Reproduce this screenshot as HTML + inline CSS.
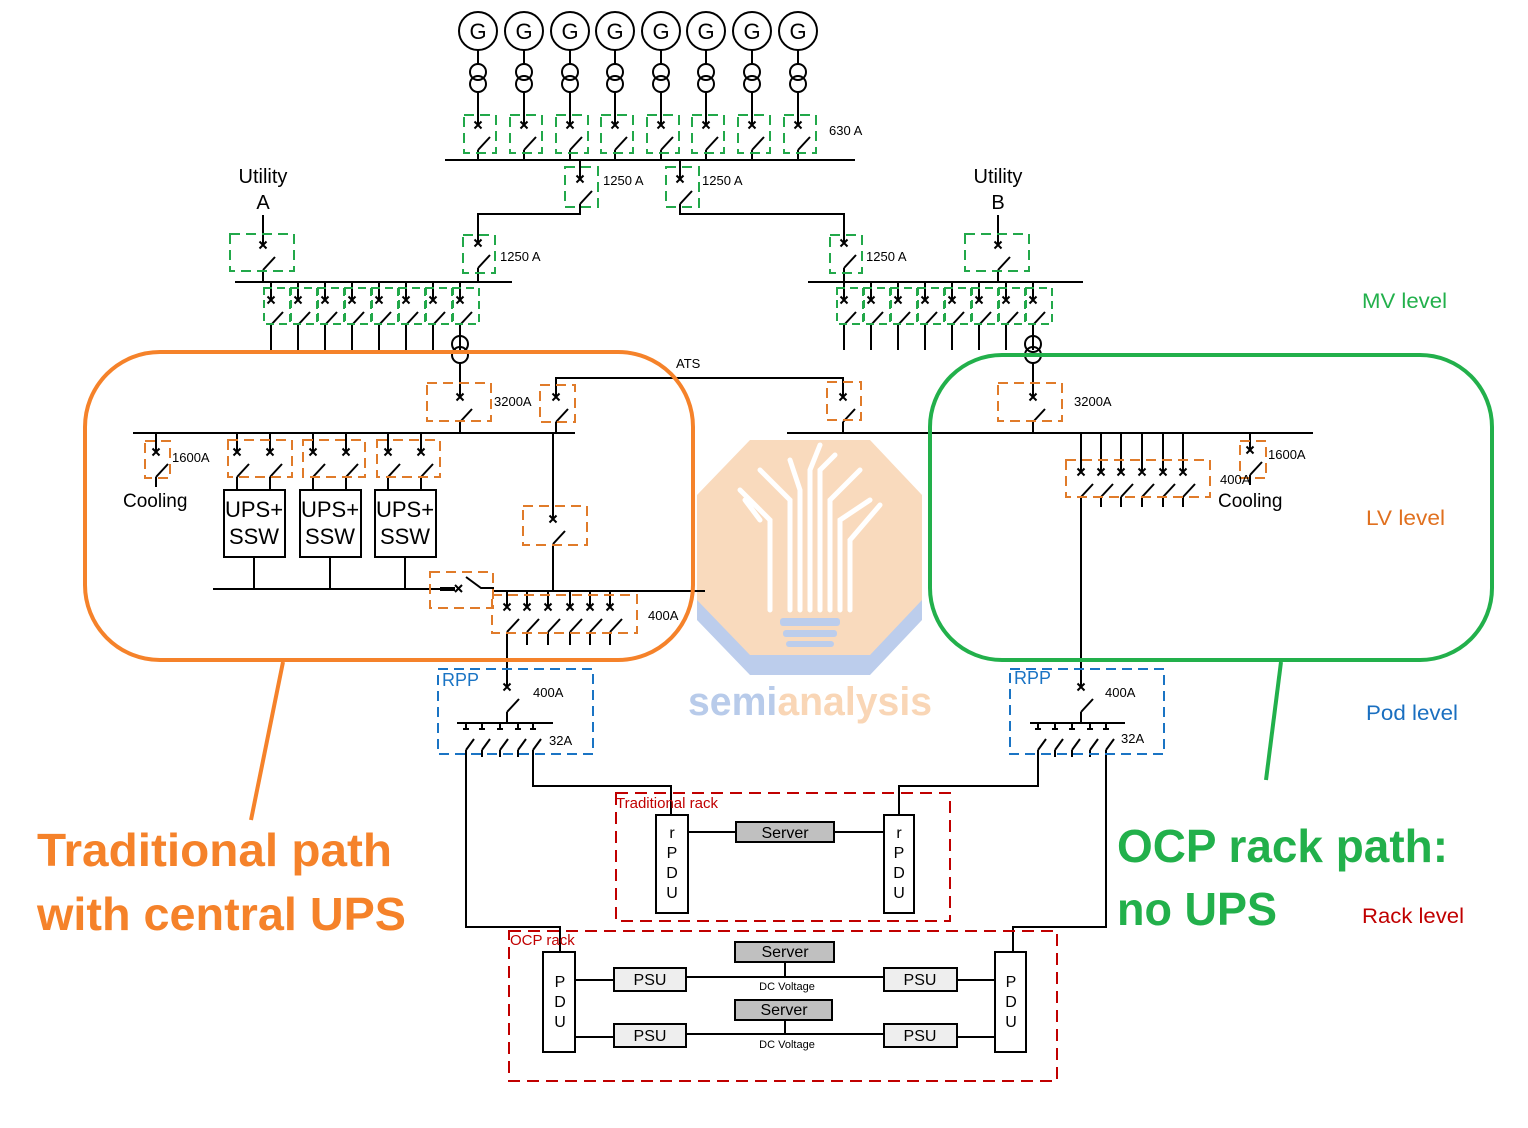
<!DOCTYPE html>
<html><head><meta charset="utf-8"><style>
html,body{margin:0;padding:0;background:#fff}
svg{display:block}
text{font-family:"Liberation Sans",sans-serif}
</style></head><body>
<svg width="1528" height="1128" viewBox="0 0 1528 1128" xmlns="http://www.w3.org/2000/svg">
<defs>
<g id="b" fill="none" stroke="#000" stroke-width="2"><path d="M-3.5,-3.5L3.5,3.5M3.5,-3.5L-3.5,3.5M0,25L12,12"/></g>
<g id="s" fill="none" stroke="#000" stroke-width="2"><path d="M-3,-2L3,-2M0,19L8,8"/></g>
<g id="gen" fill="none" stroke="#000" stroke-width="2">
<circle cx="0" cy="31" r="19"/><path d="M0,50V64M0,92V125M0,150V160"/>
<circle cx="0" cy="72" r="8"/><circle cx="0" cy="84" r="8"/>
<use href="#b" y="125"/>
<rect x="-14" y="115" width="32" height="38" stroke="#22a84a" stroke-dasharray="10,6"/>
</g>
<g id="fd" fill="none" stroke="#000" stroke-width="2">
<path d="M0,282V300M0,325V350"/><use href="#b" y="300"/>
<rect x="-7" y="288" width="26" height="36" stroke="#22a84a" stroke-dasharray="8,5"/>
</g>
</defs>

<!-- logo -->
<polygon points="750,460 870,460 922,515 922,620 870,675 750,675 697,620 697,515" fill="#bccdec"/>
<polygon points="750,440 870,440 922,495 922,600 870,655 750,655 697,600 697,495" fill="#f9dabd"/>
<g stroke="#fff" stroke-width="5" fill="none" stroke-linecap="round">
<path d="M770,610V520L740,490M790,610V500L760,470M800,610V490L790,460M810,610V470L820,445M820,610V470L835,455M830,610V500L860,470M840,610V520L870,500M850,610V540L880,505M760,520L745,500"/>
</g>
<g fill="#bccdec"><rect x="780" y="618" width="60" height="8" rx="3"/><rect x="783" y="630" width="54" height="7" rx="3"/><rect x="786" y="641" width="48" height="6" rx="3"/></g>
<text x="688" y="715" font-size="40" font-weight="bold" textLength="244" lengthAdjust="spacingAndGlyphs"><tspan fill="#b8cbea">semi</tspan><tspan fill="#f9d6b6">analysis</tspan></text>

<!-- generators -->
<g font-size="22" text-anchor="middle">
<use href="#gen" x="478"/><use href="#gen" x="524"/><use href="#gen" x="570"/><use href="#gen" x="615"/><use href="#gen" x="661"/><use href="#gen" x="706"/><use href="#gen" x="752"/><use href="#gen" x="798"/>
<text x="478" y="39">G</text><text x="524" y="39">G</text><text x="570" y="39">G</text><text x="615" y="39">G</text><text x="661" y="39">G</text><text x="706" y="39">G</text><text x="752" y="39">G</text><text x="798" y="39">G</text>
</g>
<g font-size="13"><text x="829" y="135">630 A</text><text x="603" y="185">1250 A</text><text x="702" y="185">1250 A</text><text x="500" y="261">1250 A</text><text x="866" y="261">1250 A</text></g>

<g fill="none" stroke="#000" stroke-width="2">
<path d="M445,160H855"/>
<path d="M580,160V179M580,204V214H478V243M478,268V282"/><use href="#b" x="580" y="179"/><use href="#b" x="478" y="243"/>
<path d="M680,160V179M680,204V214H844V243M844,268V282"/><use href="#b" x="680" y="179"/><use href="#b" x="844" y="243"/>
<path d="M263,215V245M263,270V282"/><use href="#b" x="263" y="245"/>
<path d="M998,215V245M998,270V282"/><use href="#b" x="998" y="245"/>
<path d="M235,282H512M808,282H1083"/>
</g>
<g fill="none" stroke="#22a84a" stroke-width="2" stroke-dasharray="10,6">
<rect x="565" y="167" width="33" height="40"/><rect x="666" y="167" width="33" height="40"/>
<rect x="463" y="235" width="32" height="38"/><rect x="830" y="235" width="32" height="38"/>
<rect x="230" y="234" width="64" height="37"/><rect x="965" y="234" width="64" height="37"/>
</g>
<g font-size="20" text-anchor="middle"><text x="263" y="183">Utility</text><text x="263" y="209">A</text><text x="998" y="183">Utility</text><text x="998" y="209">B</text></g>

<use href="#fd" x="271"/><use href="#fd" x="298"/><use href="#fd" x="325"/><use href="#fd" x="352"/><use href="#fd" x="379"/><use href="#fd" x="406"/><use href="#fd" x="433"/><use href="#fd" x="460"/>
<use href="#fd" x="844"/><use href="#fd" x="871"/><use href="#fd" x="898"/><use href="#fd" x="925"/><use href="#fd" x="952"/><use href="#fd" x="979"/><use href="#fd" x="1006"/><use href="#fd" x="1033"/>

<!-- LV -->
<g fill="none" stroke="#000" stroke-width="2">
<path d="M460,350V336M460,363V397M460,422V433"/><circle cx="460" cy="344" r="8"/><circle cx="460" cy="355" r="8"/><use href="#b" x="460" y="397"/>
<path d="M1033,350V336M1033,363V397M1033,422V433"/><circle cx="1033" cy="344" r="8"/><circle cx="1033" cy="355" r="8"/><use href="#b" x="1033" y="397"/>
<path d="M133,433H575M787,433H1313"/>
<path d="M556,397V378H843V397M556,422V433M843,422V433"/><use href="#b" x="556" y="397"/><use href="#b" x="843" y="397"/>
<path d="M553,433V519M553,544V590"/><use href="#b" x="553" y="519"/>
<path d="M156,433V452M156,477V487"/><use href="#b" x="156" y="452"/>
<path d="M237,433V452M237,477V490M270,433V452M270,477V490M313,433V452M313,477V490M346,433V452M346,477V490M388,433V452M388,477V490M421,433V452M421,477V490"/>
<use href="#b" x="237" y="452"/><use href="#b" x="270" y="452"/><use href="#b" x="313" y="452"/><use href="#b" x="346" y="452"/><use href="#b" x="388" y="452"/><use href="#b" x="421" y="452"/>
<rect x="224" y="490" width="61" height="67"/><rect x="300" y="490" width="61" height="67"/><rect x="375" y="490" width="61" height="67"/>
<path d="M254,557V590M330,557V590M405,557V590"/>
<path d="M213,589H440M466,577L481,588H493V591H705"/><path d="M440,589H455" stroke-width="4"/><path d="M455,585L462,592M462,585L455,592"/>
<path d="M507,591V607M507,632V687M527,591V607M527,632V645M548,591V607M548,632V645M570,591V607M570,632V645M590,591V607M590,632V645M610,591V607M610,632V645"/>
<use href="#b" x="507" y="607"/><use href="#b" x="527" y="607"/><use href="#b" x="548" y="607"/><use href="#b" x="570" y="607"/><use href="#b" x="590" y="607"/><use href="#b" x="610" y="607"/>
<path d="M1081,433V472M1081,497V687M1101,433V472M1101,497V507M1121,433V472M1121,497V507M1142,433V472M1142,497V507M1163,433V472M1163,497V507M1183,433V472M1183,497V507"/>
<use href="#b" x="1081" y="472"/><use href="#b" x="1101" y="472"/><use href="#b" x="1121" y="472"/><use href="#b" x="1142" y="472"/><use href="#b" x="1163" y="472"/><use href="#b" x="1183" y="472"/>
<path d="M1250,433V450M1250,475V485"/><use href="#b" x="1250" y="450"/>
</g>
<g fill="none" stroke="#e07b2a" stroke-width="2" stroke-dasharray="10,6">
<rect x="427" y="383" width="64" height="38"/><rect x="998" y="383" width="64" height="38"/>
<rect x="540" y="385" width="35" height="37"/><rect x="827" y="382" width="34" height="38"/>
<rect x="145" y="441" width="25" height="37"/>
<rect x="228" y="440" width="64" height="37"/><rect x="303" y="440" width="62" height="37"/><rect x="377" y="440" width="63" height="37"/>
<rect x="523" y="506" width="64" height="39"/><rect x="430" y="572" width="63" height="36"/>
<rect x="492" y="595" width="145" height="38"/><rect x="1066" y="460" width="144" height="37"/>
<rect x="1240" y="441" width="26" height="37"/>
</g>
<g font-size="13"><text x="494" y="406">3200A</text><text x="1074" y="406">3200A</text><text x="676" y="368">ATS</text><text x="172" y="462">1600A</text><text x="1268" y="459">1600A</text><text x="648" y="620">400A</text><text x="1220" y="484">400A</text></g>
<g font-size="19"><text x="123" y="507">Cooling</text><text x="1218" y="507">Cooling</text></g>
<g font-size="22" text-anchor="middle"><text x="254" y="517">UPS+</text><text x="254" y="544">SSW</text><text x="330" y="517">UPS+</text><text x="330" y="544">SSW</text><text x="405" y="517">UPS+</text><text x="405" y="544">SSW</text></g>

<!-- RPP -->
<g fill="none" stroke="#000" stroke-width="2">
<use href="#b" x="507" y="687"/><path d="M507,712V723M457,723H553"/>
<path d="M466,723V729M482,723V729M500,723V729M518,723V729M533,723V729"/>
<use href="#s" x="466" y="731"/><use href="#s" x="482" y="731"/><use href="#s" x="500" y="731"/><use href="#s" x="518" y="731"/><use href="#s" x="533" y="731"/>
<path d="M466,750V927H560V952M533,750V786H671V815M482,750V757M500,750V757M518,750V757"/>
<use href="#b" x="1081" y="687"/><path d="M1081,712V723M1030,723H1125"/>
<path d="M1038,723V729M1055,723V729M1072,723V729M1090,723V729M1106,723V729"/>
<use href="#s" x="1038" y="731"/><use href="#s" x="1055" y="731"/><use href="#s" x="1072" y="731"/><use href="#s" x="1090" y="731"/><use href="#s" x="1106" y="731"/>
<path d="M1038,750V786H899V815M1106,750V927H1013V952M1055,750V757M1072,750V757M1090,750V757"/>
</g>
<g fill="none" stroke="#1a74c4" stroke-width="2" stroke-dasharray="10,6"><rect x="438" y="669" width="155" height="85"/><rect x="1010" y="669" width="154" height="85"/></g>
<g font-size="18" fill="#1a74c4"><text x="442" y="686">RPP</text><text x="1014" y="684">RPP</text></g>
<g font-size="13"><text x="533" y="697">400A</text><text x="1105" y="697">400A</text><text x="549" y="745">32A</text><text x="1121" y="743">32A</text></g>

<!-- racks -->
<g fill="none" stroke="#c00000" stroke-width="2" stroke-dasharray="12,7"><rect x="616" y="793" width="334" height="128"/><rect x="509" y="931" width="548" height="150"/></g>
<g font-size="15" fill="#c00000"><text x="616" y="808">Traditional rack</text><text x="510" y="945">OCP rack</text></g>
<g stroke="#000" stroke-width="2" fill="#fff">
<path d="M688,832H736M834,832H884M575,980H614M686,977H884M957,980H995M575,1037H614M686,1034H884M957,1037H995M785,962V977M785,1020V1034" fill="none"/>
<rect x="656" y="815" width="32" height="98"/><rect x="884" y="815" width="30" height="98"/>
<rect x="736" y="822" width="98" height="20" fill="#c0c0c0"/>
<rect x="543" y="952" width="32" height="100"/><rect x="995" y="952" width="31" height="100"/>
<rect x="735" y="942" width="99" height="20" fill="#c0c0c0"/><rect x="735" y="1000" width="97" height="20" fill="#c0c0c0"/>
<rect x="614" y="968" width="72" height="23" fill="#eee"/><rect x="884" y="968" width="73" height="23" fill="#eee"/>
<rect x="614" y="1024" width="72" height="23" fill="#eee"/><rect x="884" y="1024" width="73" height="23" fill="#eee"/>
</g>
<g font-size="16" text-anchor="middle">
<text x="672" y="838">r</text><text x="672" y="858">P</text><text x="672" y="878">D</text><text x="672" y="898">U</text>
<text x="899" y="838">r</text><text x="899" y="858">P</text><text x="899" y="878">D</text><text x="899" y="898">U</text>
<text x="560" y="987">P</text><text x="560" y="1007">D</text><text x="560" y="1027">U</text>
<text x="1011" y="987">P</text><text x="1011" y="1007">D</text><text x="1011" y="1027">U</text>
<text x="785" y="838">Server</text><text x="785" y="957">Server</text><text x="784" y="1015">Server</text>
<text x="650" y="985">PSU</text><text x="920" y="985">PSU</text><text x="650" y="1041">PSU</text><text x="920" y="1041">PSU</text>
<text x="787" y="990" font-size="11">DC Voltage</text><text x="787" y="1048" font-size="11">DC Voltage</text>
</g>

<!-- highlight regions -->
<g fill="none" stroke-width="4">
<rect x="85" y="352" width="608" height="308" rx="75" stroke="#f5822a"/>
<path d="M283,662L251,820" stroke="#f5822a"/>
<rect x="930" y="355" width="562" height="305" rx="72" stroke="#22b04b"/>
<path d="M1281,662L1266,780" stroke="#22b04b"/>
</g>
<g font-weight="bold" font-size="46">
<text x="37" y="866" fill="#f5822a" textLength="355" lengthAdjust="spacingAndGlyphs">Traditional path</text>
<text x="37" y="930" fill="#f5822a" textLength="369" lengthAdjust="spacingAndGlyphs">with central UPS</text>
<text x="1117" y="862" fill="#22b04b" textLength="331" lengthAdjust="spacingAndGlyphs">OCP rack path:</text>
<text x="1117" y="925" fill="#22b04b" textLength="160" lengthAdjust="spacingAndGlyphs">no UPS</text>
</g>
<g font-size="21"><text x="1362" y="308" fill="#22b04b" textLength="85" lengthAdjust="spacingAndGlyphs">MV level</text><text x="1366" y="525" fill="#e0701f" textLength="79" lengthAdjust="spacingAndGlyphs">LV level</text><text x="1366" y="720" fill="#1a6fc0" textLength="92" lengthAdjust="spacingAndGlyphs">Pod level</text><text x="1362" y="923" fill="#c00000" textLength="102" lengthAdjust="spacingAndGlyphs">Rack level</text></g>
</svg>
</body></html>
